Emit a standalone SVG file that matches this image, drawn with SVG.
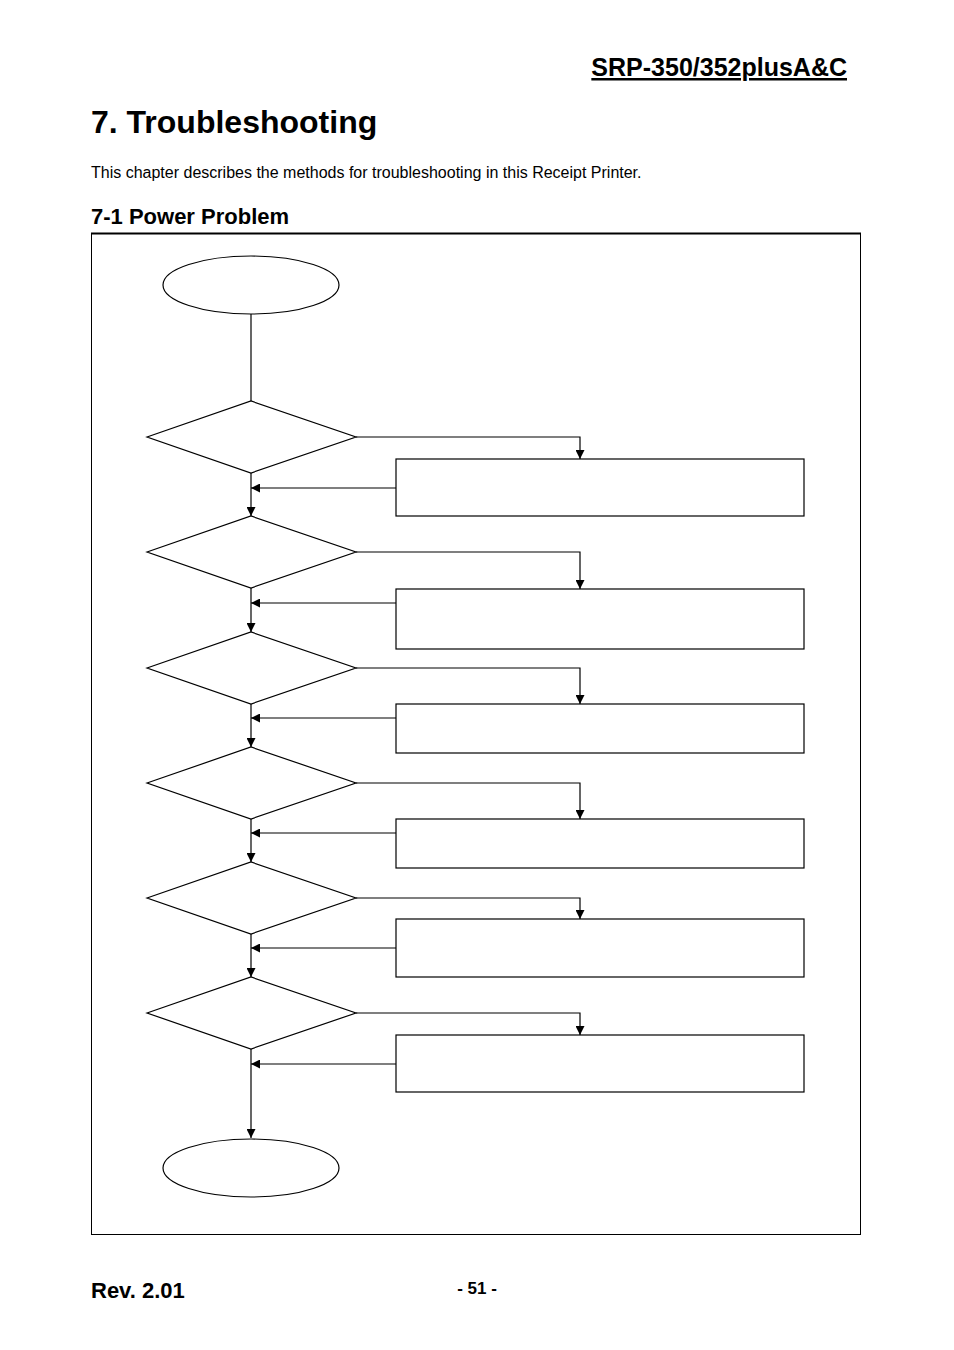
<svg xmlns="http://www.w3.org/2000/svg" width="954" height="1350" viewBox="0 0 954 1350">
<style>
.s{fill:#fff;stroke:#000;stroke-width:1.2}
.c{fill:none;stroke:#000;stroke-width:1.2}
text{font-family:"Liberation Sans",Arial,sans-serif;fill:#000}
.b{font-weight:bold}
</style>
<defs><marker id="a" viewBox="0 0 10 10" refX="10" refY="5" markerWidth="9" markerHeight="9" markerUnits="userSpaceOnUse" orient="auto"><path d="M0,0L10,5L0,10z" fill="#000"/></marker></defs>
<rect width="954" height="1350" fill="#fff"/>
<text x="847" y="76" text-anchor="end" class="b" font-size="25" text-decoration="underline">SRP-350/352plusA&amp;C</text>
<text x="91" y="133" class="b" font-size="32">7. Troubleshooting</text>
<text x="91" y="178" font-size="16">This chapter describes the methods for troubleshooting in this Receipt Printer.</text>
<text x="91" y="224" class="b" font-size="22">7-1 Power Problem</text>
<rect x="91.5" y="233.5" width="769" height="1001" fill="none" stroke="#000" stroke-width="1"/>
<line x1="91" y1="233.5" x2="861" y2="233.5" stroke="#000" stroke-width="2"/>
<g id="connectors">
<path class="c" d="M251,314V401"/>
<path class="c" d="M251,473V516" marker-end="url(#a)"/>
<path class="c" d="M251,588V632" marker-end="url(#a)"/>
<path class="c" d="M251,704V747" marker-end="url(#a)"/>
<path class="c" d="M251,819V862" marker-end="url(#a)"/>
<path class="c" d="M251,934V977" marker-end="url(#a)"/>
<path class="c" d="M251,1049V1138" marker-end="url(#a)"/>
<path class="c" d="M356,437H580V459" marker-end="url(#a)"/>
<path class="c" d="M356,552H580V589" marker-end="url(#a)"/>
<path class="c" d="M356,668H580V704" marker-end="url(#a)"/>
<path class="c" d="M356,783H580V819" marker-end="url(#a)"/>
<path class="c" d="M356,898H580V919" marker-end="url(#a)"/>
<path class="c" d="M356,1013H580V1035" marker-end="url(#a)"/>
<path class="c" d="M396,488H251" marker-end="url(#a)"/>
<path class="c" d="M396,603H251" marker-end="url(#a)"/>
<path class="c" d="M396,718H251" marker-end="url(#a)"/>
<path class="c" d="M396,833H251" marker-end="url(#a)"/>
<path class="c" d="M396,948H251" marker-end="url(#a)"/>
<path class="c" d="M396,1064H251" marker-end="url(#a)"/>
</g>
<g id="start"><ellipse class="s" cx="251" cy="285" rx="88" ry="29"/></g>
<g id="end"><ellipse class="s" cx="251" cy="1168" rx="88" ry="29"/></g>
<g id="d1"><path class="s" d="M147,437L251,401L356,437L251,473Z"/></g>
<g id="d2"><path class="s" d="M147,552L251,516L356,552L251,588Z"/></g>
<g id="d3"><path class="s" d="M147,668L251,632L356,668L251,704Z"/></g>
<g id="d4"><path class="s" d="M147,783L251,747L356,783L251,819Z"/></g>
<g id="d5"><path class="s" d="M147,898L251,862L356,898L251,934Z"/></g>
<g id="d6"><path class="s" d="M147,1013L251,977L356,1013L251,1049Z"/></g>
<g id="b1"><rect class="s" x="396" y="459" width="408" height="57"/></g>
<g id="b2"><rect class="s" x="396" y="589" width="408" height="60"/></g>
<g id="b3"><rect class="s" x="396" y="704" width="408" height="49"/></g>
<g id="b4"><rect class="s" x="396" y="819" width="408" height="49"/></g>
<g id="b5"><rect class="s" x="396" y="919" width="408" height="58"/></g>
<g id="b6"><rect class="s" x="396" y="1035" width="408" height="57"/></g>
<text x="91" y="1298" class="b" font-size="22">Rev. 2.01</text>
<text x="477" y="1294" text-anchor="middle" class="b" font-size="17">- 51 -</text>
</svg>
